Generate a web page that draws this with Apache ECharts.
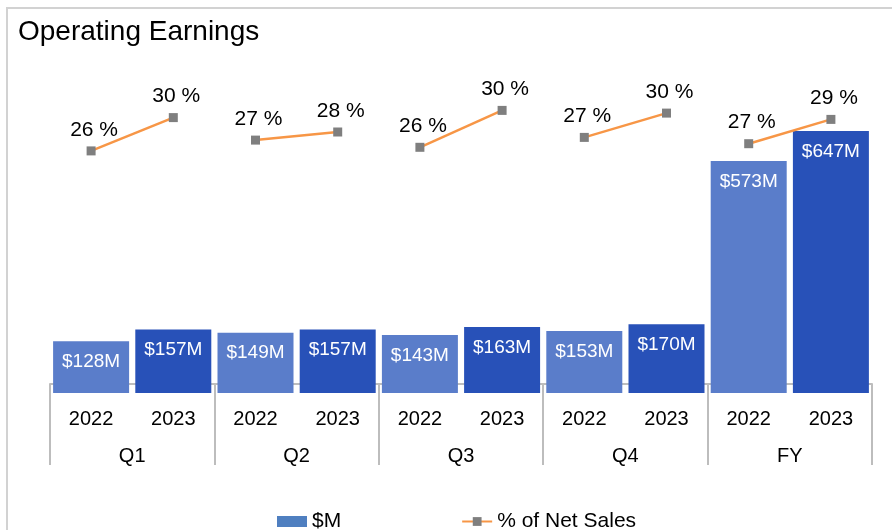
<!DOCTYPE html>
<html>
<head>
<meta charset="utf-8">
<script src="https://cdn.jsdelivr.net/npm/echarts@6/dist/echarts.min.js"></script>
<style>html,body{margin:0;padding:0;background:#fff;}#c{width:892px;height:530px;}</style>
</head>
<body>
<div id="c"></div>
<script>
const years = ['2022','2023','2022','2023','2022','2023','2022','2023','2022','2023'];
const groups = ['Q1','Q2','Q3','Q4','FY'];
const earningsM = [128,157,149,157,143,163,153,170,573,647];
const pctNetSales = [25.9,29.6,27.1,28.0,26.3,30.4,27.4,30.1,26.7,29.4];

const FONT = '"Liberation Sans", Arial, Helvetica, sans-serif';
const yearColor = { '2022': '#5a7dca', '2023': '#2851b8' };

// one line segment per group (2022 -> 2023), not connected across groups
const lineSeries = groups.map((g, gi) => ({
  name: '% of Net Sales', type: 'line', xAxisIndex: 0, yAxisIndex: 1,
  data: pctNetSales.map((v, i) => (Math.floor(i / 2) === gi ? v : '-')),
  symbol: 'rect', symbolSize: 9,
  itemStyle: { color: '#7f7f7f' },
  lineStyle: { color: '#f79646', width: 2.5 },
  label: {
    show: true, position: 'top', distance: 6, offset: [3, 0],
    fontFamily: FONT, fontSize: 21, color: '#000',
    formatter: p => Math.round(p.value) + ' %'
  }
}));

const chart = echarts.init(document.getElementById('c'), null, { renderer: 'canvas' });
chart.setOption({
  animation: false,
  backgroundColor: '#ffffff',
  textStyle: { fontFamily: FONT },
  title: {
    text: 'Operating Earnings', left: 13, top: 13,
    textStyle: { fontFamily: FONT, fontSize: 28, fontWeight: 'normal', color: '#000' }
  },
  graphic: [{
    type: 'rect', silent: true,
    shape: { x: 7, y: 8, width: 1000, height: 1000 },
    style: { fill: 'none', stroke: '#d2d2d2', lineWidth: 2 }
  }],
  legend: {
    left: 272, top: 506, itemGap: 120, itemWidth: 30, itemHeight: 11,
    textStyle: { fontFamily: FONT, fontSize: 21, color: '#000' },
    data: [{ name: '$M', icon: 'rect' }, { name: '% of Net Sales' }]
  },
  grid: { left: 50, right: 20, top: 69, bottom: 137 },
  xAxis: [{
    type: 'category', data: years, position: 'bottom',
    axisLine: { show: false }, axisTick: { show: false },
    axisLabel: { fontFamily: FONT, fontSize: 20, color: '#000', margin: 16, interval: 0 }
  }, {
    type: 'category', data: groups, position: 'bottom',
    axisLine: { show: true, lineStyle: { color: '#bdbdbd', width: 2 } },
    axisTick: { show: true, length: 81, interval: 0, lineStyle: { color: '#bdbdbd', width: 2 } },
    axisLabel: { fontFamily: FONT, fontSize: 20, color: '#000', margin: 53, interval: 0 }
  }],
  yAxis: [
    { type: 'value', min: 0, max: 800, show: false, splitLine: { show: false } },
    { type: 'value', min: -1, max: 35, show: false, splitLine: { show: false } }
  ],
  series: [{
    name: '$M', type: 'bar', xAxisIndex: 0, yAxisIndex: 0, barWidth: 76,
    itemStyle: { color: '#4f7fc0' },
    data: earningsM.map((v, i) => ({ value: v, itemStyle: { color: yearColor[years[i]] } })),
    label: {
      show: true, position: 'insideTop', distance: 11,
      fontFamily: FONT, fontSize: 19, color: '#ffffff',
      formatter: p => '$' + p.value + 'M'
    }
  }].concat(lineSeries)
});
</script>
</body>
</html>
